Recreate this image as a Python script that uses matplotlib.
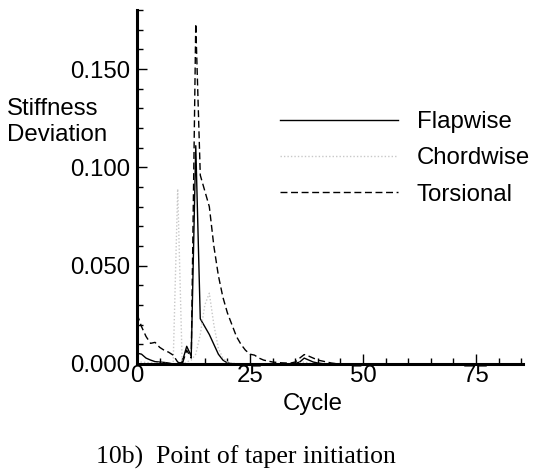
import matplotlib
matplotlib.use("Agg")
import matplotlib.pyplot as plt
from matplotlib.ticker import MultipleLocator, FixedFormatter, FixedLocator

cycles = list(range(0, 86))

flapwise = [0.0055, 0.0050, 0.0030, 0.0020, 0.0012, 0.0010, 0.0008, 0.0005, 0.0000, 0.0000,
            0.0010, 0.0090, 0.0040, 0.1110, 0.0230, 0.0190, 0.0150, 0.0100, 0.0050, 0.0020,
            0.0005, 0.0002, 0.0001, 0.0000, 0.0000, 0.0000, 0.0000, 0.0000, 0.0000, 0.0000,
            0.0000, 0.0000, 0.0000, 0.0000, 0.0000, 0.0003, 0.0010, 0.0030, 0.0020, 0.0010,
            0.0005, 0.0002, 0.0000, 0.0000, 0.0000, 0.0000, 0.0000, 0.0000, 0.0000, 0.0000,
            0.0000, 0.0000, 0.0000, 0.0000, 0.0000, 0.0000, 0.0000, 0.0000, 0.0000, 0.0000,
            0.0000, 0.0000, 0.0000, 0.0000, 0.0000, 0.0000, 0.0000, 0.0000, 0.0000, 0.0000,
            0.0000, 0.0000, 0.0000, 0.0000, 0.0000, 0.0000, 0.0000, 0.0000, 0.0000, 0.0000,
            0.0000, 0.0000, 0.0000, 0.0000, 0.0000, 0.0000]

chordwise = [0.0010, 0.0010, 0.0008, 0.0006, 0.0005, 0.0004, 0.0003, 0.0002, 0.0000, 0.0890,
             0.0000, 0.0010, 0.0020, 0.0050, 0.0150, 0.0300, 0.0360, 0.0200, 0.0080, 0.0030,
             0.0010, 0.0005, 0.0002, 0.0000, 0.0000, 0.0000, 0.0000, 0.0000, 0.0000, 0.0000,
             0.0000, 0.0000, 0.0000, 0.0000, 0.0000, 0.0000, 0.0005, 0.0010, 0.0005, 0.0000,
             0.0000, 0.0000, 0.0000, 0.0000, 0.0000, 0.0000, 0.0000, 0.0000, 0.0000, 0.0000,
             0.0000, 0.0000, 0.0000, 0.0000, 0.0000, 0.0000, 0.0000, 0.0000, 0.0000, 0.0000,
             0.0000, 0.0000, 0.0000, 0.0000, 0.0000, 0.0000, 0.0000, 0.0000, 0.0000, 0.0000,
             0.0000, 0.0000, 0.0000, 0.0000, 0.0000, 0.0000, 0.0000, 0.0000, 0.0000, 0.0000,
             0.0000, 0.0000, 0.0000, 0.0000, 0.0000, 0.0000]

torsional = [0.0255, 0.0190, 0.0140, 0.0105, 0.0110, 0.0085, 0.0070, 0.0060, 0.0045, 0.0010,
             0.0000, 0.0070, 0.0030, 0.1730, 0.0960, 0.0880, 0.0800, 0.0600, 0.0450, 0.0340,
             0.0260, 0.0200, 0.0140, 0.0100, 0.0070, 0.0050, 0.0045, 0.0030, 0.0020, 0.0015,
             0.0010, 0.0008, 0.0006, 0.0005, 0.0005, 0.0010, 0.0030, 0.0048, 0.0040, 0.0030,
             0.0020, 0.0015, 0.0010, 0.0005, 0.0002, 0.0000, 0.0000, 0.0000, 0.0000, 0.0000,
             0.0000, 0.0000, 0.0000, 0.0000, 0.0000, 0.0000, 0.0000, 0.0000, 0.0000, 0.0000,
             0.0000, 0.0000, 0.0000, 0.0000, 0.0000, 0.0000, 0.0000, 0.0000, 0.0000, 0.0000,
             0.0000, 0.0000, 0.0000, 0.0000, 0.0000, 0.0000, 0.0000, 0.0000, 0.0000, 0.0000,
             0.0000, 0.0000, 0.0000, 0.0000, 0.0000, 0.0000]

series_labels = ["Flapwise", "Chordwise", "Torsional"]
x_ticks = [0, 25, 50, 75]
y_ticks = [0.0, 0.05, 0.10, 0.15]
y_tick_labels = ["0.000", "0.050", "0.100", "0.150"]

plt.rcParams['font.family'] = ['Liberation Sans', 'DejaVu Sans']
FS = 17.3

fig = plt.figure(figsize=(5.33, 4.74), dpi=100)
ax = fig.add_axes([137/533, 1 - 364/474, (523 - 137)/533, (364 - 10)/474])

ax.plot(cycles, flapwise, color='black', lw=1.0, ls='-', label=series_labels[0])
ax.plot(cycles, chordwise, color='#c8c8c8', lw=1.0, ls=(0, (1, 1.5)), label=series_labels[1])
ax.plot(cycles, torsional, color='black', lw=1.0, ls=(0, (5, 2.6)), label=series_labels[2])

ax.set_xlim(0, 85.4)
ax.set_ylim(0, 0.18)

for s in ['top', 'right']:
    ax.spines[s].set_visible(False)
for s in ['left', 'bottom']:
    ax.spines[s].set_linewidth(2.2)

ax.xaxis.set_major_locator(FixedLocator(x_ticks))
ax.xaxis.set_minor_locator(MultipleLocator(5))
ax.yaxis.set_major_locator(FixedLocator(y_ticks))
ax.yaxis.set_major_formatter(FixedFormatter(y_tick_labels))
ax.yaxis.set_minor_locator(MultipleLocator(0.01))
ax.tick_params(which='major', direction='in', length=7, width=1.0, labelsize=FS, pad=1)
ax.tick_params(which='minor', direction='in', length=4, width=1.0)
ax.tick_params(axis='y', which='major', pad=5)

leg = ax.legend(loc='upper left', bbox_to_anchor=((280 - 137) / 386, (364 - 111) / 354),
                frameon=False, fontsize=FS, handlelength=4.9, handletextpad=0.8,
                labelspacing=0.6, borderpad=0.0, borderaxespad=0.0)

fig.text(7 / 533, 1 - 122 / 474, "Stiffness\nDeviation", fontsize=FS, ha='left', va='center',
         linespacing=1.25)
fig.text(313 / 533, 1 - 404 / 474, "Cycle", fontsize=FS, ha='center', va='center')
fig.text(246 / 533, 1 - 457 / 474, "10b)  Point of taper initiation", fontsize=18.5,
         family=['Liberation Serif', 'DejaVu Serif'], ha='center', va='center')

fig.savefig("out.png", dpi=100)
